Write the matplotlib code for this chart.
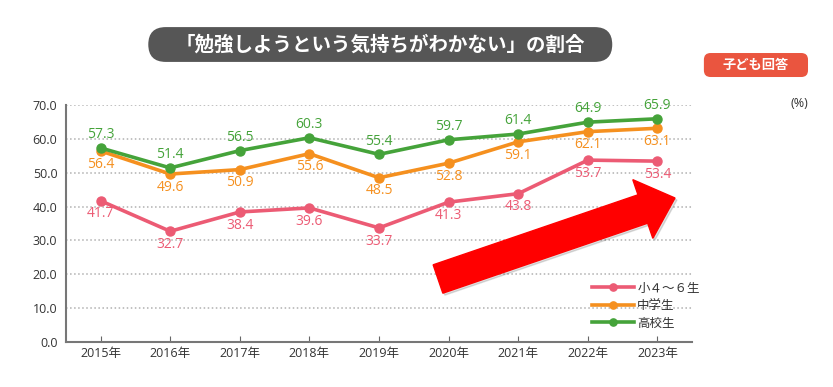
import matplotlib.pyplot as plt
from matplotlib.patches import FancyBboxPatch, FancyArrow

plt.rcParams['font.family'] = ['Open Sans', 'Noto Sans CJK JP', 'DejaVu Sans']

years = ["2015年", "2016年", "2017年", "2018年", "2019年", "2020年", "2021年", "2022年", "2023年"]
elementary = [41.7, 32.7, 38.4, 39.6, 33.7, 41.3, 43.8, 53.7, 53.4]
junior_high = [56.4, 49.6, 50.9, 55.6, 48.5, 52.8, 59.1, 62.1, 63.1]
high_school = [57.3, 51.4, 56.5, 60.3, 55.4, 59.7, 61.4, 64.9, 65.9]

series_names = ["小４～６生", "中学生", "高校生"]
colors = ["#ec5b74", "#f5901f", "#45a33a"]
label_offsets = [-9.5, -9.5, 9.5]  # points; below, below, above

fig = plt.figure(figsize=(8.33, 3.87), dpi=100)
ax = fig.add_axes([0.079, 0.116, 0.752, 0.613])

xs = list(range(len(years)))
for values, name, color, off in zip([elementary, junior_high, high_school], series_names, colors, label_offsets):
    ax.plot(xs, values, color=color, linewidth=2.6, marker='o', markersize=6.5, label=name, zorder=3)
    for x, v in zip(xs, values):
        ax.annotate("{:.1f}".format(v), (x, v), textcoords="offset points", xytext=(0, off),
                    ha='center', va='center', fontsize=10, color=color, zorder=4)

ax.set_xlim(-0.5, 8.5)
ax.set_ylim(0, 70)
ax.set_yticks(range(0, 71, 10))
ax.set_yticklabels(["{:.1f}".format(v) for v in range(0, 71, 10)])
ax.set_xticks(xs)
ax.set_xticklabels(years)
ax.tick_params(axis='both', labelsize=9, colors="#333333")
ax.tick_params(axis='x', direction='in', length=4, color="#666666")
ax.tick_params(axis='y', length=0, pad=6)
ax.yaxis.grid(True, linestyle=':', color="#b0b0b0", linewidth=1.1)
ax.set_axisbelow(True)
for side in ["top", "right"]:
    ax.spines[side].set_visible(False)
for side in ["left", "bottom"]:
    ax.spines[side].set_color("#777777")
    ax.spines[side].set_linewidth(1.5)

# big red trend arrow (figure inches), with a faint shadow
shadow = FancyArrow(4.40, 1.06, 2.37, 0.81, width=0.30, head_width=0.62, head_length=0.34,
                    length_includes_head=True, color="#000000", alpha=0.12, transform=fig.dpi_scale_trans, zorder=4)
fig.patches.append(shadow)
arrow = FancyArrow(4.38, 1.08, 2.37, 0.81, width=0.30, head_width=0.62, head_length=0.34,
                   length_includes_head=True, color="#ff0000", transform=fig.dpi_scale_trans, zorder=5)
fig.patches.append(arrow)

leg = fig.legend(loc='upper left', bbox_to_anchor=(0.705, 0.285), frameon=False, fontsize=9,
                 handlelength=3.3, handletextpad=0.3, labelspacing=0.35, borderaxespad=0, markerscale=0.8)
for t in leg.get_texts():
    t.set_color("#333333")

# title pill
fig.patches.append(FancyBboxPatch((0.178, 0.84), 0.557, 0.09,
                                  boxstyle="round,pad=0,rounding_size=0.021", transform=fig.transFigure,
                                  facecolor="#565656", edgecolor="none", mutation_aspect=2.15))
fig.text(0.456, 0.885, "「勉強しようという気持ちがわかない」の割合", ha='center', va='center',
         fontsize=14, fontweight='bold', color="white", family=['Noto Sans CJK JP'])

# badge
fig.patches.append(FancyBboxPatch((0.845, 0.801), 0.125, 0.062,
                                  boxstyle="round,pad=0,rounding_size=0.008", transform=fig.transFigure,
                                  facecolor="#ea553f", edgecolor="none", mutation_aspect=2.15))
fig.text(0.9075, 0.832, "子ども回答", ha='center', va='center', fontsize=9.5, fontweight='bold',
         color="white", family=['Noto Sans CJK JP'])

fig.text(0.96, 0.733, "(%)", ha='center', va='center', fontsize=9, color="#333333")

fig.savefig("out.png", dpi=100)
